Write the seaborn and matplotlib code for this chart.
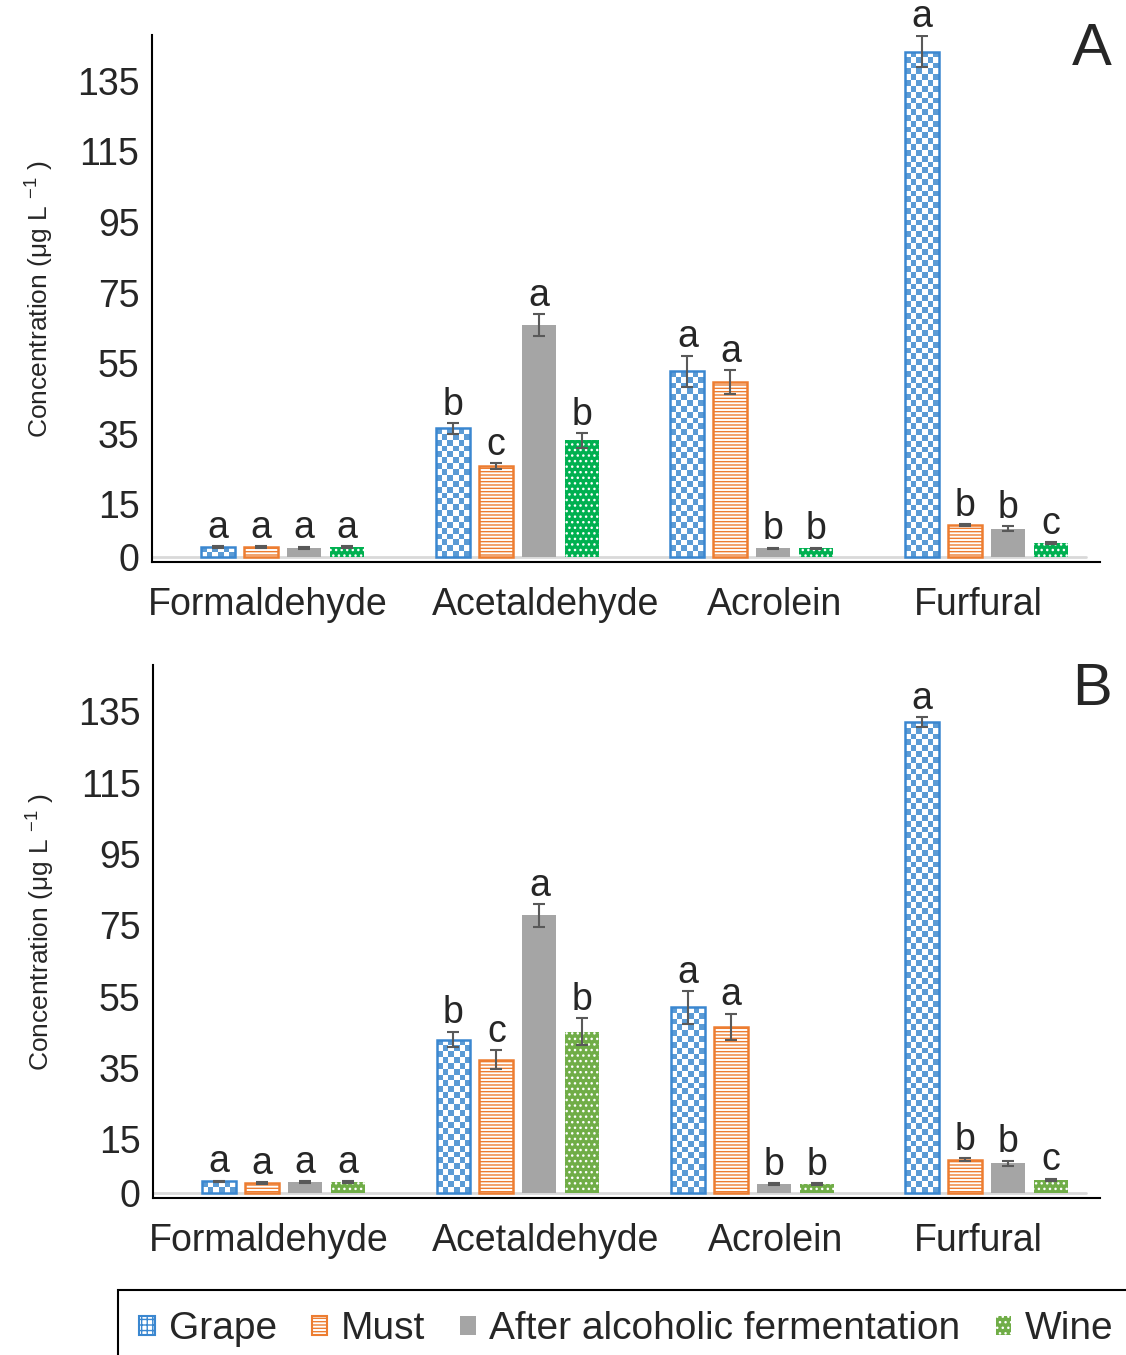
import matplotlib.pyplot as plt
import numpy as np
import pandas as pd
import seaborn as sns
from matplotlib.colors import ListedColormap
from matplotlib.patches import Patch
from matplotlib.transforms import ScaledTranslation

# ---- data ----
compounds = ["Formaldehyde", "Acetaldehyde", "Acrolein", "Furfural"]
stages = ["Grape", "Must", "After alcoholic fermentation", "Wine"]
yticks = [0, 15, 35, 55, 75, 95, 115, 135]

# panel A
a_grape = [2.8, 36.5, 52.7, 143.3]
a_grape_err = [0.3, 1.5, 4.4, 4.5]
a_must = [2.8, 25.8, 49.6, 9.1]
a_must_err = [0.2, 0.8, 3.3, 0.2]
a_aaf = [2.6, 65.7, 2.5, 8.0]
a_aaf_err = [0.3, 3.1, 0.2, 0.7]
a_wine = [2.8, 33.1, 2.5, 4.0]
a_wine_err = [0.2, 2.1, 0.2, 0.2]

# panel B
b_grape = [3.3, 43.0, 52.0, 132.0]
b_grape_err = [0.2, 2.2, 4.6, 1.4]
b_must = [2.8, 37.4, 46.6, 9.3]
b_must_err = [0.2, 2.7, 3.7, 0.4]
b_aaf = [3.1, 77.8, 2.5, 8.4]
b_aaf_err = [0.3, 3.1, 0.2, 0.7]
b_wine = [3.0, 45.2, 2.5, 3.7]
b_wine_err = [0.3, 3.8, 0.2, 0.3]

# significance letters (same in both panels)
letters_grape = ["a", "b", "a", "a"]
letters_must = ["a", "c", "a", "b"]
letters_aaf = ["a", "a", "b", "b"]
letters_wine = ["a", "b", "b", "c"]

BLUE = "#5B9BD5"
BLUE_EDGE = "#3A87D0"
ORANGE = "#ED7D31"
GRAY = "#A5A5A5"
GREEN_A = "#00B050"
GREEN_B = "#70AD47"

# horizontal nudge of the category labels (pixels), as laid out in the original
label_shift = [-15, 28, 23, -8]

sns.set_style("white")
plt.rcParams["font.family"] = ["Liberation Sans", "DejaVu Sans"]
plt.rcParams["mathtext.fontset"] = "custom"
plt.rcParams["mathtext.rm"] = "Liberation Sans"
plt.rcParams["hatch.linewidth"] = 1.0


def make_df(vals, errs, letters):
    rows = []
    for s, v, e, l in zip(stages, vals, errs, letters):
        for c, vi, ei, li in zip(compounds, v, e, l):
            rows.append({"compound": c, "stage": s, "value": vi, "err": ei, "letter": li})
    return pd.DataFrame(rows)


def checker(ax, patch, cell=5.8):
    x0, y0 = patch.get_x(), patch.get_y()
    w, h = patch.get_width(), patch.get_height()
    p0 = ax.transData.transform((x0, y0))
    p1 = ax.transData.transform((x0 + w, y0 + h))
    nx = max(1, int(round(abs(p1[0] - p0[0]) / cell)))
    ny = max(1, int(round(abs(p1[1] - p0[1]) / cell)))
    grid = np.add.outer(np.arange(ny), np.arange(nx)) % 2
    im = ax.imshow(grid, cmap=ListedColormap(["white", BLUE]), extent=(x0, x0 + w, y0, y0 + h),
                   origin="lower", aspect="auto", interpolation="nearest", zorder=0.9)
    im.set_clip_path(patch)


def draw_panel(ax, df, wine_color):
    pal = {stages[0]: BLUE, stages[1]: ORANGE, stages[2]: GRAY, stages[3]: wine_color}
    sns.barplot(data=df, x="compound", y="value", hue="stage", order=compounds,
                hue_order=stages, palette=pal, errorbar=None, width=0.733, gap=0.21,
                legend=False, ax=ax)
    ax.set_xlim(-0.557, 3.484)
    ax.set_ylim(-1.4, 148)

    bar_sets = list(ax.containers)
    for i, cont in enumerate(bar_sets):
        sub = df[df["stage"] == stages[i]].set_index("compound").loc[compounds]
        xs = []
        for p in cont.patches:
            xs.append(p.get_x() + p.get_width() / 2)
            if i == 0:
                p.set_facecolor("none")
                p.set_edgecolor(BLUE_EDGE)
                p.set_linewidth(1.8)
                p.set_zorder(1)
                checker(ax, p)
            elif i == 1:
                p.set_facecolor("white")
                p.set_edgecolor(ORANGE)
                p.set_hatch("-----")
                p.set_linewidth(1.8)
            elif i == 2:
                p.set_facecolor(GRAY)
                p.set_linewidth(0)
            else:
                p.set_facecolor(wine_color)
                p.set_edgecolor("white")
                p.set_hatch("...")
                p.set_linewidth(0)
        ax.errorbar(xs, sub["value"], yerr=sub["err"], fmt="none", ecolor="#595959",
                    elinewidth=1.5, capsize=4.5, capthick=1.5, zorder=5)
        for x, v, e, l in zip(xs, sub["value"], sub["err"], sub["letter"]):
            ax.annotate(l, (x, v + e), xytext=(0, 6), textcoords="offset points",
                        ha="center", va="baseline", fontsize=27, annotation_clip=False)

    ax.axhline(0, xmin=0, xmax=0.985, color="#D9D9D9", lw=2, zorder=0.5)
    ax.set_xlim(-0.557, 3.484)
    ax.set_ylim(-1.4, 148)
    ax.set_yticks(yticks)
    ax.set_yticklabels([str(t) for t in yticks])
    ax.tick_params(axis="y", length=0, pad=9, labelsize=27)
    ax.tick_params(axis="x", length=0, pad=18, labelsize=27)
    for lab, dx in zip(ax.get_xticklabels(), label_shift):
        lab.set_transform(lab.get_transform() + ScaledTranslation(dx / 100, 0, fig.dpi_scale_trans))
    ax.set_xlabel("")
    ax.set_ylabel("Concentration (μg L $^{\\mathregular{-1}}$ )", fontsize=19)
    ax.yaxis.set_label_coords(-0.102, 0.5)
    for s in ["top", "right"]:
        ax.spines[s].set_visible(False)
    for s in ["left", "bottom"]:
        ax.spines[s].set_color("black")
        ax.spines[s].set_linewidth(1.5)
    ax.patch.set_alpha(0)


W, H = 1126, 1355
fig = plt.figure(figsize=(W / 100, H / 100), dpi=100)
ax_a = fig.add_axes([152 / W, 1 - 562 / H, 948 / W, 527 / H])
ax_b = fig.add_axes([153 / W, 1 - 1198 / H, 947 / W, 533 / H])

df_a = make_df([a_grape, a_must, a_aaf, a_wine],
               [a_grape_err, a_must_err, a_aaf_err, a_wine_err],
               [letters_grape, letters_must, letters_aaf, letters_wine])
df_b = make_df([b_grape, b_must, b_aaf, b_wine],
               [b_grape_err, b_must_err, b_aaf_err, b_wine_err],
               [letters_grape, letters_must, letters_aaf, letters_wine])

draw_panel(ax_a, df_a, GREEN_A)
draw_panel(ax_b, df_b, GREEN_B)

fig.text(1092 / W, 1 - 65 / H, "A", fontsize=43, ha="center", va="baseline")
fig.text(1092 / W, 1 - 705 / H, "B", fontsize=43, ha="center", va="baseline")

handles = [
    Patch(facecolor="white", edgecolor=BLUE_EDGE, hatch="+++", lw=1.5),
    Patch(facecolor="white", edgecolor=ORANGE, hatch="-----", lw=1.5),
    Patch(facecolor=GRAY, edgecolor=GRAY, lw=0),
    Patch(facecolor=GREEN_B, edgecolor="white", hatch="...", lw=0),
]
leg = fig.legend(handles, stages, loc="upper left", bbox_to_anchor=(118 / W, 1 - 1290 / H),
                 ncol=4, fontsize=28, frameon=True, fancybox=False, framealpha=1,
                 edgecolor="black", handlelength=0.4, handleheight=0.4, handletextpad=0.35,
                 columnspacing=0.9, borderpad=0.55, borderaxespad=0)
leg.get_frame().set_linewidth(1.5)

fig.savefig("out.png", dpi=100)
